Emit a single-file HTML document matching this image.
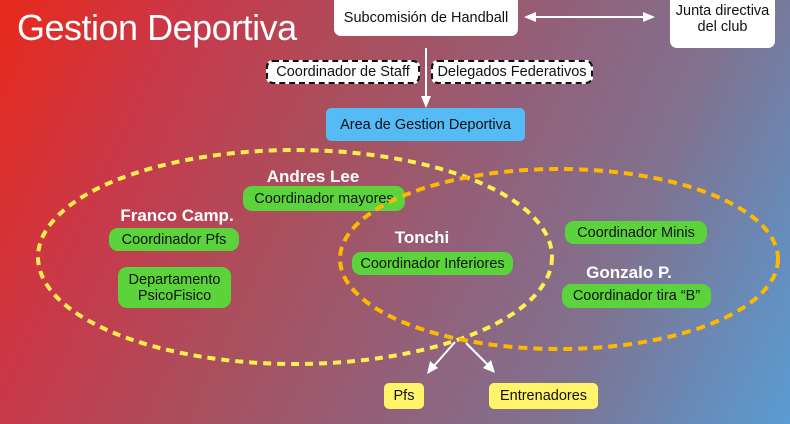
<!DOCTYPE html>
<html>
<head>
<meta charset="utf-8">
<style>
  html,body{margin:0;padding:0;}
  body{width:790px;height:424px;overflow:hidden;position:relative;
    font-family:"Liberation Sans",Arial,sans-serif;
    background:linear-gradient(115deg,#e8291a 0%,#c8394a 20%,#a8505e 40%,#93607a 58%,#80728f 75%,#6a88b4 88%,#5a9cd2 100%);}
  .box{position:absolute;display:flex;align-items:center;justify-content:center;text-align:center;
    box-sizing:border-box;color:#111;font-size:14.5px;line-height:16px;white-space:nowrap;}
  .w{background:#fff;border-radius:7px;}
  .d{background:#fff;border:2px dashed #111;border-radius:7px;}
  .g{background:#5ad43a;border-radius:9px;}
  .y{background:#fff46a;border-radius:5px;}
  svg{position:absolute;left:0;top:0;}
</style>
</head>
<body>
<svg width="790" height="424" viewBox="0 0 790 424">
  <text x="17" y="40" font-family="Liberation Sans, sans-serif" font-size="36" fill="#fff" letter-spacing="-0.5">Gestion Deportiva</text>
</svg>

<div class="box w" style="left:334px;top:-8px;width:184px;height:44px;padding-top:8px;">Subcomisión de Handball</div>
<div class="box w" style="left:670px;top:-8px;width:105px;height:56px;padding-bottom:2px;">Junta directiva<br>del club</div>
<div class="box d" style="left:266px;top:60px;width:154px;height:24px;">Coordinador de Staff</div>
<div class="box d" style="left:431px;top:60px;width:162px;height:24px;">Delegados Federativos</div>
<div class="box" style="left:326px;top:108px;width:199px;height:33px;background:#55bbf5;border-radius:5px;">Area de Gestion Deportiva</div>

<div class="box g" style="left:243px;top:186px;width:162px;height:25px;">Coordinador mayores</div>
<div class="box g" style="left:109px;top:228px;width:130px;height:23px;">Coordinador Pfs</div>
<div class="box g" style="left:118px;top:267px;width:113px;height:41px;">Departamento<br>PsicoFisico</div>
<div class="box g" style="left:352px;top:252px;width:161px;height:23px;">Coordinador Inferiores</div>
<div class="box g" style="left:565px;top:221px;width:142px;height:23px;">Coordinador Minis</div>
<div class="box g" style="left:562px;top:284px;width:149px;height:24px;">Coordinador tira “B”</div>

<div class="box y" style="left:384px;top:383px;width:40px;height:26px;">Pfs</div>
<div class="box y" style="left:489px;top:383px;width:109px;height:26px;">Entrenadores</div>

<svg width="790" height="424" viewBox="0 0 790 424">
  <!-- ellipses -->
  <ellipse cx="295" cy="257" rx="257" ry="107" fill="none" stroke="#fff050" stroke-width="4" stroke-dasharray="8 6"/>
  <ellipse cx="559" cy="259" rx="219" ry="90" fill="none" stroke="#ffb800" stroke-width="4" stroke-dasharray="9 6"/>
  <!-- connectors -->
  <g stroke="#fff" stroke-width="2" fill="#fff">
    <line x1="533" y1="17" x2="646" y2="17"/>
    <path d="M524,17 L536,12 L536,22 z" stroke="none"/>
    <path d="M655,17 L643,12 L643,22 z" stroke="none"/>
    <line x1="426" y1="48" x2="426" y2="98"/>
    <path d="M426,108 L421,96 L431,96 z" stroke="none"/>
    <line x1="455" y1="342" x2="433" y2="367"/>
    <path d="M427,374 L430,361 L438,368 z" stroke="none"/>
    <line x1="466" y1="343" x2="489" y2="366"/>
    <path d="M495,373 L483,368 L491,360 z" stroke="none"/>
  </g>
  <g font-family="Liberation Sans, sans-serif" font-weight="bold" font-size="17" fill="#fff" text-anchor="middle">
    <text x="313" y="182">Andres Lee</text>
    <text x="177" y="221">Franco Camp.</text>
    <text x="422" y="243">Tonchi</text>
    <text x="629" y="278">Gonzalo P.</text>
  </g>
</svg>
</body>
</html>
